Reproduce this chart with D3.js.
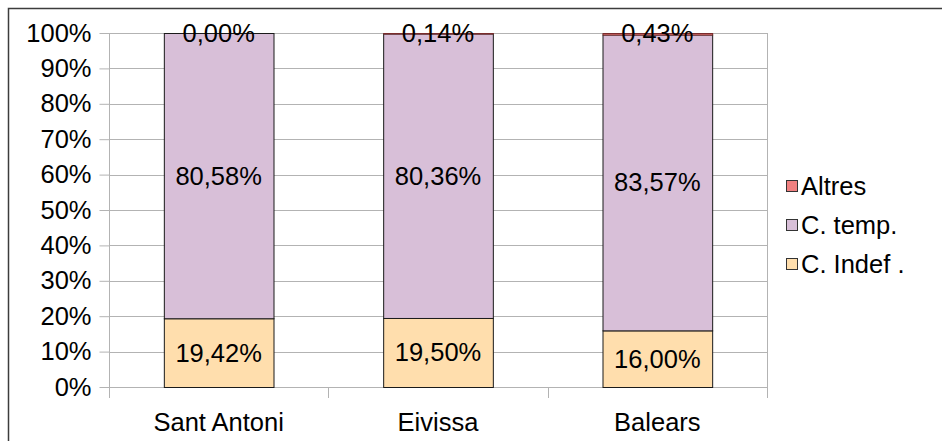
<!DOCTYPE html>
<html>
<head>
<meta charset="utf-8">
<script src="https://cdn.jsdelivr.net/npm/d3@7"></script>
<style>
  body { margin: 0; background: #fff; }
  text { font-family: "Liberation Sans", Arial, sans-serif; fill: #000; }
</style>
</head>
<body>
<div class="svg-container"></div>
<script>
// data
const categories = ['Sant Antoni', 'Eivissa', 'Balears'];
const indef = [19.42, 19.50, 16.00];
const temp = [80.58, 80.36, 83.57];
const altres = [0.00, 0.14, 0.43];
const seriesNames = ['C. Indef .', 'C. temp.', 'Altres'];
const seriesColors = ['#ffdead', '#d8bfd8', '#f08080'];
const yTicks = [0, 0.1, 0.2, 0.3, 0.4, 0.5, 0.6, 0.7, 0.8, 0.9, 1];

function renderChart() {
  const width = 942;
  const height = 441;
  const plot = { left: 109, right: 767, top: 33, bottom: 387 };
  const fontSize = 25.5;

  const svg = d3.select('.svg-container')
    .append('svg')
    .attr('width', width)
    .attr('height', height);

  // outer frame (runs off the right and bottom edge)
  svg.append('rect')
    .attr('x', 8.5).attr('y', 8.5)
    .attr('width', 960).attr('height', 460)
    .attr('fill', 'none')
    .attr('stroke', '#3c3c3c')
    .attr('stroke-width', 1.5);

  const x = d3.scaleBand()
    .domain(categories)
    .range([plot.left, plot.right])
    .paddingInner(0.5)
    .paddingOuter(0.25);

  const y = d3.scaleLinear()
    .domain([0, 1])
    .range([plot.bottom, plot.top]);

  // gridlines
  svg.append('g')
    .selectAll('line')
    .data(yTicks)
    .enter()
    .append('line')
    .attr('x1', plot.left).attr('x2', plot.right)
    .attr('y1', d => Math.round(y(d)) + 0.5)
    .attr('y2', d => Math.round(y(d)) + 0.5)
    .attr('stroke', '#b3b3b3');

  // y axis
  const yAxis = svg.append('g')
    .attr('transform', `translate(${plot.left + 0.5},0)`)
    .call(d3.axisLeft(y).tickValues(yTicks).tickFormat(d3.format('.0%')).tickSize(10).tickPadding(8));
  yAxis.select('.domain').remove();
  yAxis.selectAll('line').attr('stroke', '#b3b3b3');
  yAxis.selectAll('text')
    .attr('font-size', fontSize)
    .attr('font-family', '"Liberation Sans", Arial, sans-serif')
    .attr('fill', '#000');

  // vertical lines at category boundaries
  const step = x.step();
  const bounds = [0, 1, 2, 3].map(i => plot.left + i * step);
  svg.append('g')
    .selectAll('line')
    .data(bounds)
    .enter()
    .append('line')
    .attr('x1', d => Math.round(d) + 0.5).attr('x2', d => Math.round(d) + 0.5)
    .attr('y1', (d, i) => (i === 0 || i === 3) ? plot.top : plot.bottom)
    .attr('y2', plot.bottom + 11)
    .attr('stroke', '#b3b3b3');

  // stacked bars
  const rows = categories.map((c, i) => ({ cat: c, vals: [indef[i], temp[i], altres[i]] }));
  rows.forEach(r => {
    let acc = 0;
    r.vals.forEach((v, k) => {
      const y0 = acc / 100;
      const y1 = (acc + v) / 100;
      acc += v;
      svg.append('rect')
        .attr('x', x(r.cat) + 0.5)
        .attr('y', y(y1) + 0.5)
        .attr('width', x.bandwidth())
        .attr('height', Math.max(0, y(y0) - y(y1)))
        .attr('fill', seriesColors[k])
        .attr('stroke', k === 2 ? '#7a2c2c' : '#1a1a1a')
        .attr('stroke-width', 1);
    });
  });

  // value labels
  const fmt = v => v.toFixed(2).replace('.', ',') + '%';
  rows.forEach(r => {
    let acc = 0;
    r.vals.forEach((v, k) => {
      const mid = k === 2 ? 1 : (acc + v / 2) / 100;
      acc += v;
      svg.append('text')
        .attr('x', x(r.cat) + x.bandwidth() / 2)
        .attr('y', y(mid))
        .attr('dy', '0.35em')
        .attr('text-anchor', 'middle')
        .attr('font-size', fontSize)
        .text(fmt(v));
    });
  });

  // category labels
  svg.append('g')
    .selectAll('text')
    .data(categories)
    .enter()
    .append('text')
    .attr('x', d => x(d) + x.bandwidth() / 2)
    .attr('y', 422)
    .attr('dy', '0.35em')
    .attr('text-anchor', 'middle')
    .attr('font-size', fontSize)
    .text(d => d);

  // legend, top entry is the top series
  const legendOrder = [2, 1, 0];
  const legend = svg.append('g')
    .selectAll('g')
    .data(legendOrder)
    .enter()
    .append('g')
    .attr('transform', (d, i) => `translate(786,${186 + i * 39})`);

  legend.append('rect')
    .attr('x', 0.5).attr('y', -5.5)
    .attr('width', 11).attr('height', 11)
    .attr('fill', d => seriesColors[d])
    .attr('stroke', '#333');

  legend.append('text')
    .attr('x', 15)
    .attr('y', 0)
    .attr('dy', '0.35em')
    .attr('font-size', fontSize)
    .text(d => seriesNames[d]);
}

renderChart();
</script>
</body>
</html>
